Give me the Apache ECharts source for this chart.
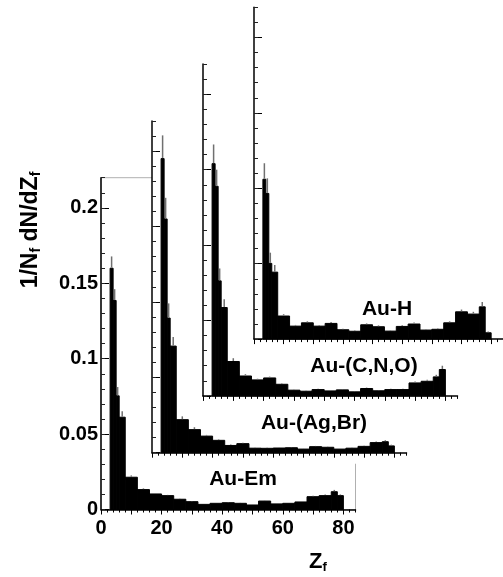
<!DOCTYPE html>
<html><head><meta charset="utf-8">
<script src="https://cdn.jsdelivr.net/npm/echarts@6/dist/echarts.min.js"></script>
<style>html,body{margin:0;padding:0;background:#fff}#c{width:503px;height:577px}</style>
</head><body><div id="c"></div><script>
// ---- data ----
const binEdges = [3,4,5,6,8,12,16,20,24,28,32,36,40,44,48,52,56,60,64,68,72,76,78,80];
const panelNames = ['Au-Em','Au-(Ag,Br)','Au-(C,N,O)','Au-H'];
const valuesEm  = [0.160,0.1386,0.0754,0.0612,0.0214,0.0132,0.0103,0.0092,0.0068,0.0052,0.0034,0.0041,0.0045,0.0041,0.0030,0.0056,0.0037,0.0041,0.0050,0.0085,0.0092,0.0118,0.0092];
const errEm     = [0.0078,0.0075,0.0058,0.0040,0.0012,0.0008,0.0006,0.0005,0.0005,0.0005,0.0004,0.0004,0.0005,0.0004,0.0004,0.0005,0.0004,0.0004,0.0005,0.0006,0.0007,0.0012,0.0008];
const valuesAgBr= [0.195,0.155,0.0893,0.0707,0.0219,0.0153,0.0110,0.0082,0.0048,0.0060,0.0030,0.0029,0.0031,0.0033,0.0024,0.0040,0.0036,0.0024,0.0030,0.0042,0.0067,0.0073,0.0045];
const errAgBr   = [0.0154,0.014,0.0097,0.006,0.0022,0.0016,0.0008,0.0007,0.0006,0.0006,0.0005,0.0005,0.0005,0.0005,0.0004,0.0005,0.0005,0.0004,0.0005,0.0006,0.0008,0.0010,0.0008];
const valuesCNO = [0.154,0.139,0.0763,0.0586,0.0228,0.0132,0.0106,0.0119,0.0077,0.0038,0.0031,0.0042,0.0033,0.0040,0.0027,0.0049,0.0034,0.0042,0.0042,0.0086,0.0097,0.0126,0.0175];
const errCNO    = [0.0127,0.011,0.0082,0.0055,0.0022,0.0012,0.0008,0.0009,0.0007,0.0005,0.0005,0.0005,0.0005,0.0005,0.0005,0.0006,0.0005,0.0005,0.0006,0.0009,0.0010,0.0014,0.0025];
const valuesH   = [0.106,0.0966,0.0502,0.0444,0.0153,0.0086,0.0108,0.0086,0.0104,0.0062,0.0052,0.0095,0.0082,0.0053,0.0084,0.0100,0.0060,0.0065,0.0108,0.0181,0.0166,0.0214,0.0042];
const errH      = [0.0106,0.010,0.0071,0.0047,0.0012,0.0008,0.0010,0.0008,0.0009,0.0007,0.0006,0.0009,0.0009,0.0006,0.0008,0.0010,0.0007,0.0007,0.0010,0.0015,0.0015,0.0032,0.0008];
const xMajorTicks = [0,10,20,30,40,50,60,70,80];
const xTickLabels = [0,20,40,60,80];
const yMajorTicks = [0,0.05,0.1,0.15,0.2];
const xMax = 84, yMax = 0.22;

const panelValues = [valuesEm, valuesAgBr, valuesCNO, valuesH];
const panelErrs = [errEm, errAgBr, errCNO, errH];

// ---- layout ----
const L0 = 101, B0 = 509.5, W = 254.5, H = 331.8, DX = 51, DY = 56.8;
const FONT = '"Liberation Sans", Arial, Helvetica, sans-serif';
const labelOffsets = [[142,-30],[162,-29],[161,-30],[133,-30]];

const grids = [], xAxes = [], yAxes = [], series = [], graphics = [];
for (let k = 0; k < 4; k++) {
  const left = L0 + DX*k, bottom = B0 - DY*k, top = bottom - H;
  grids.push(k === 0
    ? {left:left, top:top, width:W, height:H, show:true, borderColor:'#b0b0b0', borderWidth:1, backgroundColor:'transparent', z:10*k}
    : {left:left, top:top, width:W, height:H, show:false, z:10*k});
  if (k > 0) {
    graphics.push({type:'rect', z:10*k, silent:true,
      shape:{x:left, y:top, width:W, height:H+11}, style:{fill:'#fff'}});
  }
  xAxes.push({type:'value', gridIndex:k, position:'bottom', min:0, max:xMax, interval:10, z:10*k+3,
    axisLine:{show:true, lineStyle:{color:'#000', width:1.5}},
    axisTick:{show:true, length:5, customValues:xMajorTicks, lineStyle:{color:'#000', width:1}},
    axisLabel:{show:k===0, customValues:xTickLabels, margin:9, color:'#000', fontSize:20, fontWeight:'bold', fontFamily:FONT},
    splitLine:{show:false}});
  xAxes.push({type:'value', gridIndex:k, position:'bottom', min:0, max:xMax, interval:2, z:10*k+3,
    axisLine:{show:false}, axisTick:{show:true, length:3, lineStyle:{color:'#000', width:1}},
    axisLabel:{show:false}, splitLine:{show:false}});
  yAxes.push({type:'value', gridIndex:k, position:'left', min:0, max:yMax, interval:0.05, z:10*k+3,
    axisLine:{show:true, lineStyle:{color:'#000', width:1.5}},
    axisTick:{show:true, inside:true, length:8, customValues:yMajorTicks, lineStyle:{color:'#000', width:1}},
    axisLabel:{show:k===0, customValues:yMajorTicks, margin:3, color:'#000', fontSize:20, fontWeight:'bold', fontFamily:FONT},
    splitLine:{show:false}});
  yAxes.push({type:'value', gridIndex:k, position:'left', min:0, max:yMax, interval:0.01, z:10*k+3,
    axisLine:{show:false}, axisTick:{show:true, inside:true, length:4, lineStyle:{color:'#222', width:1}},
    axisLabel:{show:false}, splitLine:{show:false}});

  const vals = panelValues[k], errs = panelErrs[k];
  const data = vals.map((v, i) => [binEdges[i], binEdges[i+1], v, errs[i]]);
  series.push({type:'custom', name:panelNames[k], xAxisIndex:2*k, yAxisIndex:2*k, z:10*k+2,
    encode:{x:[0,1], y:[2]}, data:data,
    renderItem:function(params, api){
      const x0 = api.value(0), x1 = api.value(1), y = api.value(2), e = api.value(3);
      const p0 = api.coord([x0, y]);
      const p1 = api.coord([x1, 0]);
      const c = api.coord([(x0+x1)/2, y+e]);
      return {type:'group', children:[
        {type:'rect', shape:{x:p0[0], y:p0[1], width:p1[0]-p0[0], height:p1[1]-p0[1]},
          style:{fill:'#000', stroke:'#000', lineWidth:1}},
        {type:'line', z2:5, shape:{x1:c[0], y1:p0[1]-0.5, x2:c[0], y2:c[1]}, style:{stroke:'#707070', lineWidth:1.5}}
      ]};
    }});

  graphics.push({type:'text', z:100, x:left+labelOffsets[k][0], y:bottom+labelOffsets[k][1],
    style:{text:panelNames[k], fill:'#000', font:'bold 21px ' + FONT, align:'center', verticalAlign:'middle'}});
}

graphics.push({type:'text', z:100, x:31, y:230, rotation:Math.PI/2,
  style:{text:'{m|1/N}{s|f}{m| dN/dZ}{s|f}', align:'center', verticalAlign:'middle', fill:'#000',
    rich:{m:{fontSize:23, fontWeight:'bold', fontFamily:FONT, lineHeight:24, fill:'#000'},
          s:{fontSize:14, fontWeight:'bold', fontFamily:FONT, lineHeight:8, verticalAlign:'bottom', fill:'#000'}}}});
graphics.push({type:'text', z:100, x:318, y:562,
  style:{text:'{m|Z}{s|f}', align:'center', verticalAlign:'middle', fill:'#000',
    rich:{m:{fontSize:22, fontWeight:'bold', fontFamily:FONT, lineHeight:24, fill:'#000'},
          s:{fontSize:13, fontWeight:'bold', fontFamily:FONT, lineHeight:8, verticalAlign:'bottom', fill:'#000'}}}});

const chart = echarts.init(document.getElementById('c'), null, {renderer:'canvas'});
chart.setOption({animation:false, backgroundColor:'#fff', grid:grids, xAxis:xAxes, yAxis:yAxes, series:series, graphic:graphics});
</script></body></html>
